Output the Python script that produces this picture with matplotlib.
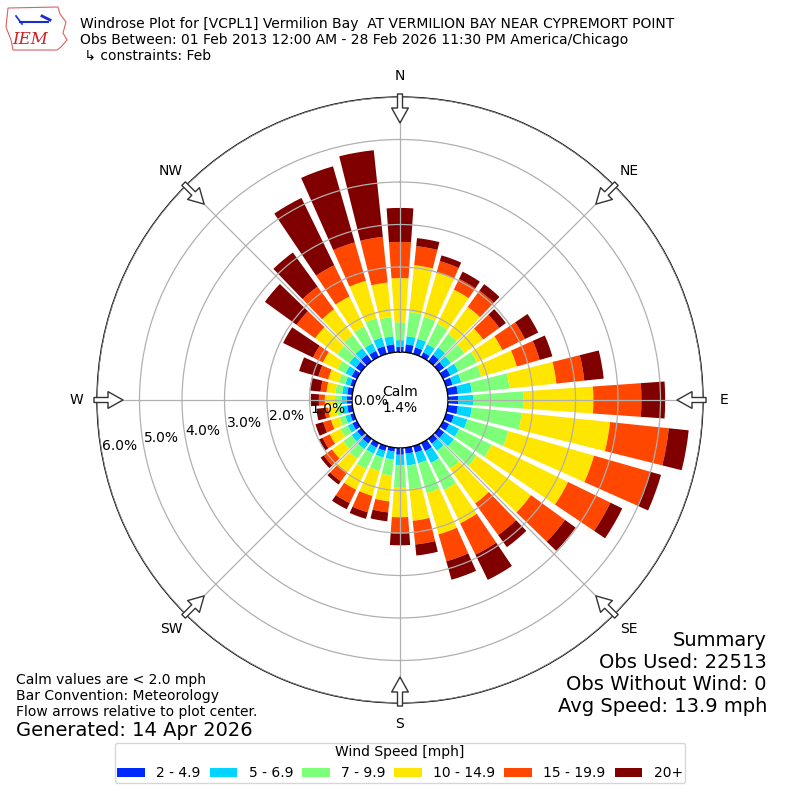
import numpy as np
import matplotlib
matplotlib.use("Agg")
import matplotlib.pyplot as plt
from matplotlib.patches import FancyArrowPatch, Polygon, Patch

# ---------------- data ----------------
directions = np.arange(0, 360, 10)  # degrees, meteorological "from"
speed_labels = ["2 - 4.9", "5 - 6.9", "7 - 9.9", "10 - 14.9", "15 - 19.9", "20+"]
calm_pct = 1.4

b_2_5 = [0.12, 0.19, 0.16, 0.12, 0.19, 0.16, 0.19, 0.16, 0.24, 0.24, 0.24, 0.19,
         0.16, 0.16, 0.14, 0.21, 0.16, 0.14, 0.16, 0.09, 0.12, 0.12, 0.14, 0.12,
         0.12, 0.09, 0.12, 0.12, 0.12, 0.09, 0.14, 0.16, 0.19, 0.16, 0.19, 0.19]
b_5_7 = [0.16, 0.19, 0.21, 0.21, 0.21, 0.19, 0.21, 0.21, 0.33, 0.35, 0.33, 0.33,
         0.26, 0.28, 0.21, 0.31, 0.26, 0.28, 0.24, 0.19, 0.16, 0.16, 0.16, 0.16,
         0.12, 0.12, 0.12, 0.12, 0.12, 0.12, 0.16, 0.19, 0.19, 0.19, 0.21, 0.19]
b_7_10 = [0.42, 0.57, 0.54, 0.54, 0.40, 0.40, 0.49, 0.49, 0.89, 1.18, 1.18, 1.01,
          0.85, 0.66, 0.52, 0.71, 0.73, 0.56, 0.52, 0.38, 0.33, 0.40, 0.28, 0.24,
          0.19, 0.14, 0.14, 0.16, 0.16, 0.16, 0.21, 0.35, 0.38, 0.45, 0.47, 0.45]
b_10_15 = [1.04, 1.11, 1.08, 0.89, 0.78, 0.54, 0.66, 0.87, 1.11, 1.65, 2.09, 2.09,
           2.00, 1.58, 1.01, 0.87, 1.01, 0.75, 0.71, 0.61, 0.61, 0.54, 0.40, 0.33,
           0.28, 0.21, 0.19, 0.24, 0.21, 0.26, 0.38, 0.64, 0.75, 0.78, 0.92, 0.82]
b_15_20 = [0.85, 0.45, 0.28, 0.28, 0.47, 0.47, 0.59, 0.56, 0.66, 1.13, 1.39, 1.36,
           1.11, 0.99, 0.92, 0.82, 0.66, 0.56, 0.38, 0.26, 0.40, 0.35, 0.26, 0.24,
           0.19, 0.19, 0.09, 0.14, 0.14, 0.24, 0.26, 0.54, 0.66, 0.82, 0.94, 1.08]
b_20p = [0.80, 0.19, 0.14, 0.19, 0.19, 0.19, 0.35, 0.31, 0.46, 0.56, 0.47, 0.28,
         0.31, 0.31, 0.35, 0.66, 0.45, 0.26, 0.28, 0.21, 0.16, 0.16, 0.09, 0.09,
         0.09, 0.19, 0.19, 0.19, 0.26, 0.47, 0.78, 0.92, 0.99, 1.76, 1.86, 2.05]

ring_values = [0, 1, 2, 3, 4, 5, 6]
compass_labels = ["N", "NE", "E", "SE", "S", "SW", "W", "NW"]
compass_angles = [0, 45, 90, 135, 180, 225, 270, 315]

# ---------------- figure ----------------
W = H = 800
fig = plt.figure(figsize=(8, 8), dpi=100)

def fx(px):
    return px / W

def fy(py):
    return 1 - py / H

R = 303.0
ax = fig.add_axes([fx(400 - R), fy(400 + R), 2 * R / W, 2 * R / H], projection="polar")
ax.set_theta_zero_location("N")
ax.set_theta_direction(-1)
rmax = 6.0
rorig = -1.129
ax.set_ylim(0, rmax)
ax.set_rorigin(rorig)

colors = plt.cm.jet(np.arange(1, 7) / 6.0)
series = [b_2_5, b_5_7, b_7_10, b_10_15, b_15_20, b_20p]
theta = np.deg2rad(directions)
width = np.deg2rad(8)
bottom = np.zeros(len(directions))
for vals, c in zip(series, colors):
    vals = np.asarray(vals)
    ax.bar(theta, vals, width=width, bottom=bottom, color=c, edgecolor="none",
           linewidth=0, zorder=2)
    bottom = bottom + vals

ax.set_axisbelow(False)
ax.set_thetagrids(compass_angles, labels=[""] * 8)
ax.set_rgrids(ring_values[1:], labels=[""] * 6)
ax.xaxis.grid(True, color="#b0b0b0", linewidth=0.9, zorder=3)
ax.yaxis.grid(True, color="#b0b0b0", linewidth=0.9, zorder=3)
ax.tick_params(axis="both", length=0)
for name, sp in ax.spines.items():
    sp.set_color("black")
    sp.set_linewidth(1.0)

# ring labels
for rv in ring_values:
    ax.text(np.deg2rad(260), rv, f"{rv:.1f}%", ha="left", va="bottom",
            fontsize=10, zorder=5)

# calm text
ax.text(0, rorig, f"Calm\n{calm_pct:.1f}%", ha="center", va="center", fontsize=10,
        zorder=6)

# compass arrows and labels
def px_to_r(px):
    return px / R * (rmax - rorig) + rorig

r_tail = px_to_r(306)
r_tip = px_to_r(277)
r_lab = px_to_r(324)
for lab, ang in zip(compass_labels, compass_angles):
    t = np.deg2rad(ang)
    arr = FancyArrowPatch((t, r_tail), (t, r_tip),
                          arrowstyle="simple,head_length=10.8,head_width=12,tail_width=3.6",
                          mutation_scale=1, fc="white", ec="#333333", lw=1.0,
                          transform=ax.transData, clip_on=False,
                          shrinkA=0, shrinkB=0, zorder=6)
    ax.add_patch(arr)
    ax.text(t, r_lab, lab, ha="center", va="center", fontsize=10, clip_on=False)

# ---------------- header ----------------
fig.text(fx(80), fy(24), "Windrose Plot for [VCPL1] Vermilion Bay  AT VERMILION BAY NEAR CYPREMORT POINT",
         fontsize=10, va="center", ha="left")
fig.text(fx(80), fy(40), "Obs Between: 01 Feb 2013 12:00 AM - 28 Feb 2026 11:30 PM America/Chicago",
         fontsize=10, va="center", ha="left")
fig.text(fx(80), fy(56), " \u21b3 constraints: Feb", fontsize=10, va="center", ha="left")

# simple logo
iowa = [(8, 8), (58, 7), (60, 14), (66, 22), (63, 33), (67, 40), (61, 47), (57, 50),
        (13, 50), (11, 40), (6, 27), (8, 8)]
fig.patches.append(Polygon([(fx(a), fy(b)) for a, b in iowa], closed=True, fill=False,
                           ec="#e06060", lw=0.8, transform=fig.transFigure))
fig.lines.append(plt.Line2D([fx(20), fx(48)], [fy(22), fy(22)], color="#1a2bd0", lw=1.5,
                            transform=fig.transFigure))
fig.lines.append(plt.Line2D([fx(16), fx(22)], [fy(16), fy(24)], color="#1a2bd0", lw=1.2,
                            transform=fig.transFigure))
fig.lines.append(plt.Line2D([fx(42), fx(50)], [fy(16), fy(20)], color="#1a2bd0", lw=2.0,
                            transform=fig.transFigure))
fig.text(fx(30), fy(39), "IEM", fontsize=12, color="#d02020", family="DejaVu Serif",
         style="italic", ha="center", va="center")

# ---------------- footer ----------------
fig.text(fx(16), fy(680), "Calm values are < 2.0 mph", fontsize=10, va="center")
fig.text(fx(16), fy(696), "Bar Convention: Meteorology", fontsize=10, va="center")
fig.text(fx(16), fy(712), "Flow arrows relative to plot center.", fontsize=10, va="center")
fig.text(fx(16), fy(730), "Generated: 14 Apr 2026", fontsize=14, va="center")

fig.text(fx(767), fy(640), "Summary", fontsize=14, va="center", ha="right")
fig.text(fx(767), fy(662), "Obs Used: 22513", fontsize=14, va="center", ha="right")
fig.text(fx(767), fy(684), "Obs Without Wind: 0", fontsize=14, va="center", ha="right")
fig.text(fx(767), fy(706), "Avg Speed: 13.9 mph", fontsize=14, va="center", ha="right")

handles = [Patch(facecolor=c, edgecolor="none") for c in colors]
leg = fig.legend(handles, speed_labels, loc="lower center", bbox_to_anchor=(0.5, fy(790)),
                 ncol=6, title="Wind Speed [mph]", fontsize=10, title_fontsize=10,
                 columnspacing=0.65, borderpad=0.2, frameon=True)

fig.savefig("out.png", dpi=100)
